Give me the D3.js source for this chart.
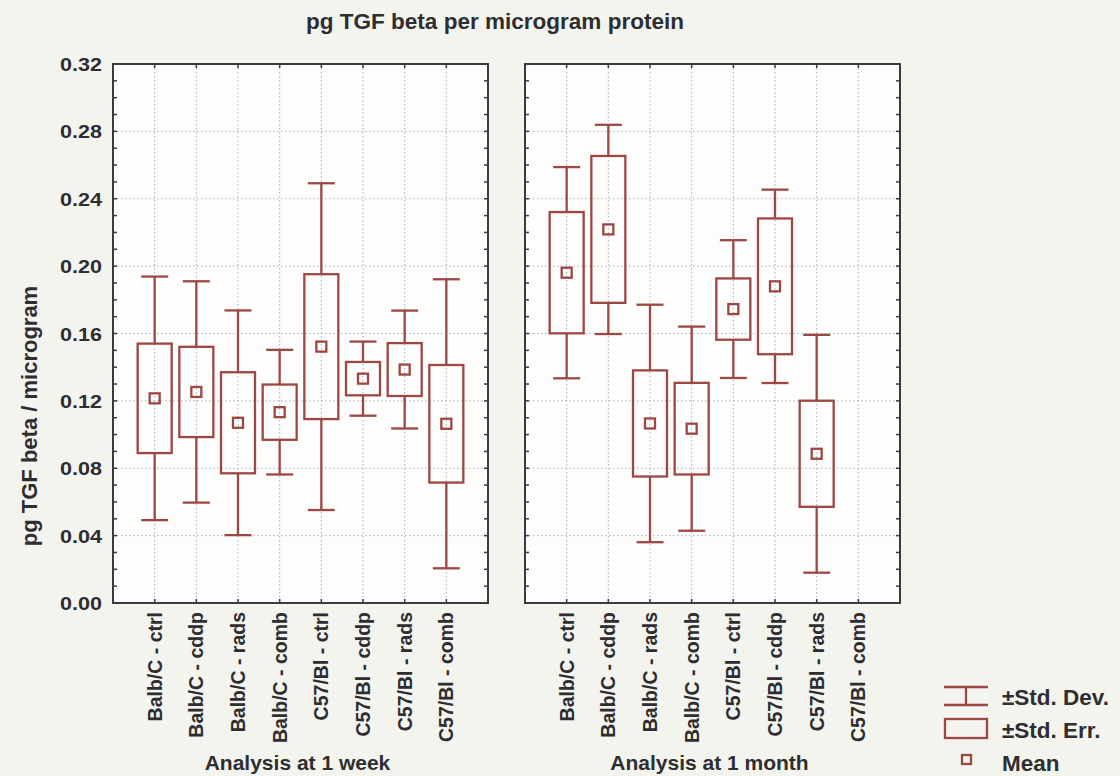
<!DOCTYPE html>
<html>
<head>
<meta charset="utf-8">
<script src="https://cdn.jsdelivr.net/npm/d3@7/dist/d3.min.js"></script>
<style>
  html, body { margin: 0; padding: 0; background: #f4f4ef; }
  svg { display: block; }
  text { font-family: "Liberation Sans", Arial, sans-serif; fill: #2e2e30; font-weight: bold; }
</style>
</head>
<body>
<script>
// Groups on the x axis (same for both time points)
const categories = [
  "Balb/C - ctrl", "Balb/C - cddp", "Balb/C - rads", "Balb/C - comb",
  "C57/Bl - ctrl", "C57/Bl - cddp", "C57/Bl - rads", "C57/Bl - comb"
];

// Analysis at 1 week: mean, standard error, standard deviation
const weekMean = [0.1215, 0.1253, 0.1070, 0.1133, 0.1522, 0.1332, 0.1386, 0.1064];
const weekSE   = [0.0325, 0.0268, 0.0300, 0.0164, 0.0430, 0.0099, 0.0157, 0.0349];
const weekSD   = [0.0723, 0.0657, 0.0667, 0.0370, 0.0970, 0.0220, 0.0350, 0.0858];

// Analysis at 1 month (no data for C57/Bl - comb)
const monthMean = [0.1961, 0.2218, 0.1066, 0.1035, 0.1745, 0.1880, 0.0886, null];
const monthSE   = [0.0360, 0.0436, 0.0315, 0.0272, 0.0182, 0.0403, 0.0315, null];
const monthSD   = [0.0627, 0.0621, 0.0705, 0.0606, 0.0409, 0.0574, 0.0706, null];

const yTicks = [0.00, 0.04, 0.08, 0.12, 0.16, 0.20, 0.24, 0.28, 0.32];
const panelTitles = ["Analysis at 1 week", "Analysis at 1 month"];
const legendLabels = ["\u00B1Std. Dev.", "\u00B1Std. Err.", "Mean"];

const W = 1120, H = 776;
const markColor = "#9c4744";
const frameColor = "#3a3a40";
const gridColor = "#9fb0c8";

const svg = d3.select("body").append("svg").attr("width", W).attr("height", H);

const y = d3.scaleLinear().domain([0, 0.32]).range([603, 64]);

const panels = [
  { left: 113, right: 488, mean: weekMean, se: weekSE, sd: weekSD, title: panelTitles[0] },
  { left: 525, right: 900, mean: monthMean, se: monthSE, sd: monthSD, title: panelTitles[1] }
];

// Chart title
svg.append("text")
  .attr("x", 495).attr("y", 29)
  .attr("text-anchor", "middle")
  .style("font-size", "22px")
  .attr("textLength", 378).attr("lengthAdjust", "spacingAndGlyphs")
  .text("pg TGF beta per microgram protein");

// Y axis title
svg.append("text")
  .attr("transform", "translate(37,416) rotate(-90)")
  .attr("text-anchor", "middle")
  .style("font-size", "22px")
  .text("pg TGF beta / microgram");

// Y tick labels (left panel only)
svg.append("g").selectAll("text").data(yTicks).join("text")
  .attr("x", 102).attr("y", d => y(d) + 7)
  .attr("text-anchor", "end")
  .style("font-size", "19px")
  .attr("textLength", 42).attr("lengthAdjust", "spacingAndGlyphs")
  .text(d3.format(".2f"));

const boxW = 34, capW = 27, meanS = 10;

panels.forEach(p => {
  const x = d3.scalePoint().domain(categories).range([p.left, p.right]).padding(1);
  const g = svg.append("g");

  // plot area
  g.append("rect")
    .attr("x", p.left).attr("y", y(0.32))
    .attr("width", p.right - p.left).attr("height", y(0) - y(0.32))
    .attr("fill", "#fdfdfb");

  // dotted grid
  g.append("g").selectAll("line").data(yTicks.slice(1, -1)).join("line")
    .attr("x1", p.left).attr("x2", p.right)
    .attr("y1", d => y(d)).attr("y2", d => y(d))
    .attr("stroke", gridColor).attr("stroke-width", 1)
    .attr("stroke-dasharray", "1.5,2.5");
  g.append("g").selectAll("line").data(categories).join("line")
    .attr("x1", d => x(d)).attr("x2", d => x(d))
    .attr("y1", y(0.32)).attr("y2", y(0))
    .attr("stroke", gridColor).attr("stroke-width", 1)
    .attr("stroke-dasharray", "1.5,2.5");

  // minor ticks on left and right edges, every 0.01
  const minor = d3.range(0, 0.3201, 0.01);
  g.append("g").selectAll("line").data(minor).join("line")
    .attr("x1", p.left).attr("x2", p.left + 4)
    .attr("y1", d => y(d)).attr("y2", d => y(d))
    .attr("stroke", frameColor).attr("stroke-width", 1.5);
  g.append("g").selectAll("line").data(minor).join("line")
    .attr("x1", p.right - 4).attr("x2", p.right)
    .attr("y1", d => y(d)).attr("y2", d => y(d))
    .attr("stroke", frameColor).attr("stroke-width", 1.5);
  // category ticks on top and bottom edges
  g.append("g").selectAll("line").data(categories).join("line")
    .attr("x1", d => x(d)).attr("x2", d => x(d))
    .attr("y1", y(0.32)).attr("y2", y(0.32) + 4)
    .attr("stroke", frameColor).attr("stroke-width", 1.5);
  g.append("g").selectAll("line").data(categories).join("line")
    .attr("x1", d => x(d)).attr("x2", d => x(d))
    .attr("y1", y(0) - 4).attr("y2", y(0))
    .attr("stroke", frameColor).attr("stroke-width", 1.5);

  // boxes
  const rows = categories.map((c, i) => ({ c, m: p.mean[i], se: p.se[i], sd: p.sd[i] }))
    .filter(r => r.m != null);
  const b = g.append("g").attr("fill", "none").attr("stroke", markColor).attr("stroke-width", 2.3);
  const item = b.selectAll("g").data(rows).join("g");
  // whisker stems
  item.append("line")
    .attr("x1", d => x(d.c)).attr("x2", d => x(d.c))
    .attr("y1", d => y(d.m + d.sd)).attr("y2", d => y(d.m + d.se));
  item.append("line")
    .attr("x1", d => x(d.c)).attr("x2", d => x(d.c))
    .attr("y1", d => y(d.m - d.se)).attr("y2", d => y(d.m - d.sd));
  // whisker caps
  item.append("line")
    .attr("x1", d => x(d.c) - capW / 2).attr("x2", d => x(d.c) + capW / 2)
    .attr("y1", d => y(d.m + d.sd)).attr("y2", d => y(d.m + d.sd));
  item.append("line")
    .attr("x1", d => x(d.c) - capW / 2).attr("x2", d => x(d.c) + capW / 2)
    .attr("y1", d => y(d.m - d.sd)).attr("y2", d => y(d.m - d.sd));
  // standard-error box
  item.append("rect")
    .attr("x", d => x(d.c) - boxW / 2).attr("width", boxW)
    .attr("y", d => y(d.m + d.se)).attr("height", d => y(d.m - d.se) - y(d.m + d.se));
  // mean square
  item.append("rect")
    .attr("x", d => x(d.c) - meanS / 2).attr("width", meanS)
    .attr("y", d => y(d.m) - meanS / 2).attr("height", meanS);

  // frame
  g.append("rect")
    .attr("x", p.left).attr("y", y(0.32))
    .attr("width", p.right - p.left).attr("height", y(0) - y(0.32))
    .attr("fill", "none").attr("stroke", frameColor).attr("stroke-width", 2);

  // category labels
  g.append("g").selectAll("text").data(categories).join("text")
    .attr("transform", d => `translate(${x(d) + 7},${y(0) + 9}) rotate(-90)`)
    .attr("text-anchor", "end")
    .style("font-size", "19.5px")
    .text(d => d);

  // panel axis title
  g.append("text")
    .attr("x", (p.left + p.right) / 2 - 3).attr("y", 770)
    .attr("text-anchor", "middle")
    .style("font-size", "21px")
    .text(p.title);
});

// legend
const lg = svg.append("g").attr("fill", "none").attr("stroke", markColor).attr("stroke-width", 2.3);
// std dev symbol
lg.append("line").attr("x1", 944).attr("x2", 988).attr("y1", 687).attr("y2", 687);
lg.append("line").attr("x1", 944).attr("x2", 988).attr("y1", 705).attr("y2", 705);
lg.append("line").attr("x1", 966).attr("x2", 966).attr("y1", 687).attr("y2", 705);
// std err symbol
lg.append("rect").attr("x", 945).attr("y", 719).attr("width", 42).attr("height", 19);
// mean symbol
lg.append("rect").attr("x", 962).attr("y", 755).attr("width", 9).attr("height", 9);

svg.append("g").selectAll("text").data(legendLabels).join("text")
  .attr("x", 1002).attr("y", (d, i) => 705 + i * 33)
  .style("font-size", "22.5px")
  .text(d => d);
</script>
</body>
</html>
